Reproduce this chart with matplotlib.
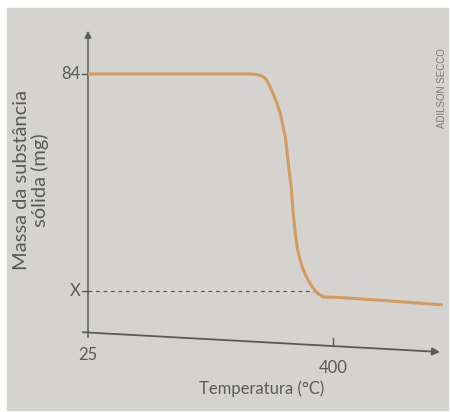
import numpy as np
import matplotlib.pyplot as plt
from matplotlib.patches import Rectangle

# curve (temperature in C, mass in mg)
temp = [25, 150, 273, 281, 289, 296, 302, 308, 314, 319, 323, 327, 331, 334, 336,
        339, 342, 345, 349, 353, 357, 362, 368, 376, 385, 411, 480, 568]
mass = [84, 84, 84, 83.9, 83.5, 82.7, 80.6, 77.8, 74.6, 71.4, 67.6, 63.6, 56.1, 50.5, 47.4,
        38.9, 32.8, 27.9, 24.2, 21.4, 19.2, 17.2, 15.0, 12.9, 11.7, 11.5, 10.5, 9.1]
x_ticks = [25, 400]
x_tick_labels = ['25', '400']
y_ticks = [84, 13.6]
y_tick_labels = ['84', 'X']

bg = '#d5d3d0'
ink = '#5a5a5a'
line_col = '#d49a5e'
font = ['Lato', 'DejaVu Sans']

fig = plt.figure(figsize=(4.5, 4.12), dpi=100)
fig.patch.set_facecolor('white')
fig.add_artist(Rectangle((7 / 450, 2 / 412), 441 / 450, 402 / 412,
                         transform=fig.transFigure, color=bg, zorder=-5))

W, H = 450.0, 412.0
ax = fig.add_axes([88 / W, (H - 333) / H, (443 - 88) / W, (333 - 28) / H])
ax.set_zorder(2)
ax.set_facecolor('none')
ax.set_xlim(25, 568.4)
ax.set_ylim(0, 98.9)
for s in ax.spines.values():
    s.set_visible(False)
ax.set_xticks([])
ax.set_yticks([])

# axes drawn as arrows (the x axis sags a little in the photo)
ax.annotate('', xy=(25, 98.9), xytext=(25, -2.3),
            arrowprops=dict(arrowstyle='-|>', color=ink, lw=1.1, mutation_scale=10),
            annotation_clip=False)
ax.annotate('', xy=(568, -6.2), xytext=(12.8, 0.3),
            arrowprops=dict(arrowstyle='-|>', color=ink, lw=1.3, mutation_scale=11),
            annotation_clip=False)

ax.plot(temp, mass, color=line_col, lw=2.2, solid_joinstyle='round',
        solid_capstyle='butt', zorder=3)
ax.plot([25, 380], [y_ticks[1], y_ticks[1]], color=ink, lw=0.9, ls=(0, (3, 3)), zorder=2)

# tick marks and labels
for y, lab in zip(y_ticks, y_tick_labels):
    ax.plot([15.5, 25], [y, y], color=ink, lw=1.0, clip_on=False)
    ax.text(13, y, lab, ha='right', va='center', fontsize=12, color=ink,
            family=font)
ax.plot([400, 400], [-1.6, -4.3], color=ink, lw=1.0, clip_on=False)
ax.text(25, -4.5, x_tick_labels[0], ha='center', va='top', fontsize=12,
        color=ink, family=font)
ax.text(400, -8.6, x_tick_labels[1], ha='center', va='top', fontsize=12,
        color=ink, family=font)

ax.text(0.49, -0.155, 'Temperatura (°C)', transform=ax.transAxes, ha='center',
        va='top', fontsize=12, color=ink, family=font)
fig.text(31 / W, 1 - 180 / H, 'Massa da substância\nsólida (mg)', rotation=90,
         ha='center', va='center', fontsize=14.5, color=ink, family=font,
         linespacing=1.0, multialignment='center')
fig.text(442 / W, 1 - 88 / H, 'ADILSON SECCO', rotation=90, ha='center',
         va='center', fontsize=7, color='#7a7a7a', family=['Liberation Sans', 'DejaVu Sans'])

fig.savefig('out.png', dpi=100, facecolor=fig.get_facecolor())
